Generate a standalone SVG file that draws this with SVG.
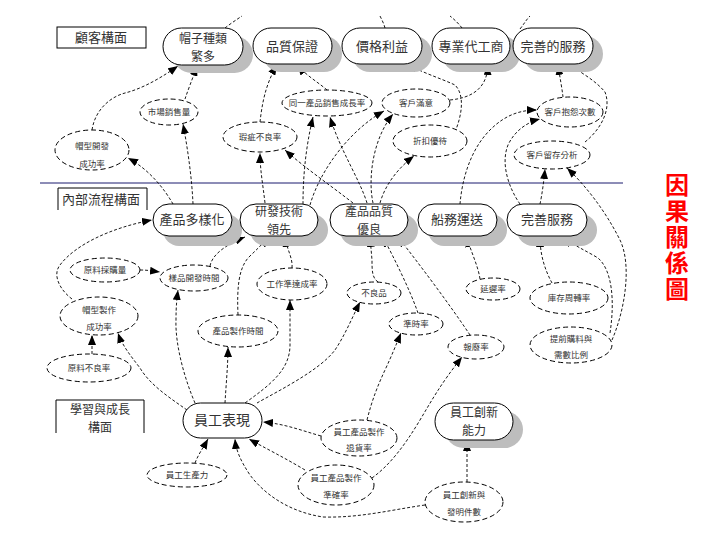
<svg xmlns="http://www.w3.org/2000/svg" width="720" height="540" viewBox="0 0 720 540">
<style>
text{font-family:"Noto Sans CJK TC","Noto Sans CJK SC",sans-serif;fill:#333;text-anchor:middle}
.big{font-size:13px}
.b2{font-size:12px}
.sm{font-size:8.5px}
.st{fill:#fff;stroke:#000;stroke-width:1}
.sh{fill:#bdbdbd}
.el{fill:#fff;stroke:#000;stroke-width:1;stroke-dasharray:5 3}
.hd{fill:none;stroke:#000;stroke-width:1}
#connectors path{fill:none;stroke:#000;stroke-width:0.9;stroke-dasharray:3 2}
#connectors path.a{marker-end:url(#arr)}
.red{fill:#f00;font-size:24px;font-weight:bold;writing-mode:vertical-rl;text-anchor:start;letter-spacing:2px}
</style>
<defs>
<marker id="arr" markerUnits="userSpaceOnUse" markerWidth="10" markerHeight="8" refX="10" refY="4" orient="auto">
<path d="M0,0 L10,4 L0,8 z" fill="#000"/>
</marker>
</defs>
<rect width="720" height="540" fill="#fff"/>

<!-- section headers -->
<g id="h-customer"><rect x="57" y="27" width="89" height="21" class="hd"/><text x="101" y="42" class="big">顧客構面</text></g>
<g id="h-internal"><path d="M58,210 V188 H147 V210" class="hd"/><text x="101" y="204" class="big">內部流程構面</text></g>
<g id="h-learning"><path d="M56,433 V400 H144 V433" class="hd"/><text x="100" y="414" class="b2">學習與成長<tspan x="100" dy="17.5">構面</tspan></text></g>
<line x1="40" y1="183" x2="623" y2="183" stroke="#1a1a6e" stroke-width="1"/>

<!-- connectors -->
<g id="connectors">
<path d="M225,28 C230,24 236,20 242,16"/>
<path d="M385,28 C384,24 382,20 380,16"/>
<path d="M462,28 C459,24 455,20 450,16"/>
<path d="M520,29 C524,24 526,20 530,16"/>
<path class="a" d="M92,130 C95,110 110,97 125,93 C145,88 165,75 178,66"/>
<path class="a" d="M185,99 C188,90 192,80 197,66"/>
<path class="a" d="M260,122 C262,105 265,85 277,65"/>
<path class="a" d="M327,90 C318,82 305,75 298,65"/>
<path class="a" d="M455,132 C462,115 465,95 455,85 C440,78 420,72 408,64"/>
<path class="a" d="M450,100 C470,98 487,90 488,65"/>
<path class="a" d="M563,97 C562,88 560,78 558,65"/>
<path class="a" d="M585,142 C600,130 612,110 605,92 C595,80 580,72 568,64"/>
<path class="a" d="M265,203 C263,185 260,170 260,153"/>
<path class="a" d="M353,203 C330,185 305,168 285,150"/>
<path class="a" d="M303,204 C303,180 305,150 313,117"/>
<path class="a" d="M367,203 C360,180 340,150 330,117"/>
<path class="a" d="M310,205 C320,170 350,130 384,111"/>
<path class="a" d="M373,203 C368,180 372,140 393,114"/>
<path class="a" d="M380,203 C385,185 398,168 414,156"/>
<path class="a" d="M460,204 C462,180 470,150 490,130 C505,115 520,110 537,110"/>
<path class="a" d="M520,204 C510,190 500,165 508,145 C515,130 528,122 540,119"/>
<path class="a" d="M540,204 C542,195 544,180 545,169"/>
<path class="a" d="M612,340 C625,310 632,265 620,240 C605,210 585,185 567,168"/>
<path class="a" d="M610,333 C615,300 612,270 598,258 C585,250 572,245 565,237"/>
<path class="a" d="M552,283 C545,270 540,255 540,237"/>
<path class="a" d="M480,279 C478,265 470,250 467,237"/>
<path class="a" d="M378,282 C372,278 372,270 372,260 L370,237"/>
<path class="a" d="M418,313 C410,290 395,260 383,237"/>
<path class="a" d="M470,335 C450,305 420,265 398,237"/>
<path class="a" d="M210,266 C212,255 225,245 245,237"/>
<path class="a" d="M238,315 C237,290 238,270 248,258 C256,250 262,245 268,237"/>
<path class="a" d="M292,268 C293,258 287,250 285,237"/>
<path class="a" d="M72,299 C60,290 52,275 60,265 C75,245 110,228 152,220"/>
<path class="a" d="M140,270 C148,270 152,271 160,272"/>
<path class="a" d="M195,403 C185,380 175,345 176,320 C176,305 177,298 178,290"/>
<path class="a" d="M245,403 C270,385 290,370 290,345 L290,300"/>
<path class="a" d="M225,403 C226,385 228,365 228,347"/>
<path class="a" d="M92,354 L92,335"/>
<path class="a" d="M187,410 C170,398 150,385 140,368 C130,355 122,345 118,333"/>
<path class="a" d="M257,403 C280,390 320,370 335,350 C345,335 352,318 360,302"/>
<path class="a" d="M367,420 C372,400 378,385 385,370 C392,355 396,345 401,333"/>
<path class="a" d="M372,478 C390,465 405,445 420,420 C432,400 440,385 462,357"/>
<path class="a" d="M173,204 C165,190 150,170 128,158"/>
<path class="a" d="M193,204 C192,180 188,150 183,124"/>
<path class="a" d="M321,436 C300,430 285,424 263,422"/>
<path class="a" d="M195,463 C198,455 203,448 208,439"/>
<path class="a" d="M425,505 C390,510 360,518 323,517 C290,512 265,495 250,475 C240,460 236,450 235,439"/>
<path class="a" d="M305,470 C285,458 265,448 249,439"/>
<path class="a" d="M467,482 L467,441"/>
</g>

<!-- top objectives -->
<g id="n-variety"><rect x="173" y="36" width="80" height="37" rx="18.5" class="sh"/><rect x="163" y="28" width="80" height="37" rx="18.5" class="st"/><text x="203" y="43" class="b2">帽子種類<tspan x="203" dy="17.5">繁多</tspan></text></g>
<g id="n-quality"><rect x="263" y="36" width="79" height="36" rx="18" class="sh"/><rect x="253" y="28" width="79" height="36" rx="18" class="st"/><text x="292" y="51" class="big">品質保證</text></g>
<g id="n-price"><rect x="352" y="36" width="80" height="36" rx="18" class="sh"/><rect x="342" y="28" width="80" height="36" rx="18" class="st"/><text x="382" y="51" class="big">價格利益</text></g>
<g id="n-oem"><rect x="442" y="36" width="78" height="36" rx="18" class="sh"/><rect x="432" y="28" width="78" height="36" rx="18" class="st"/><text x="471" y="51" class="big">專業代工商</text></g>
<g id="n-service"><rect x="523" y="36" width="80" height="36" rx="18" class="sh"/><rect x="513" y="28" width="80" height="36" rx="18" class="st"/><text x="553" y="51" class="big">完善的服務</text></g>

<!-- customer measures -->
<g id="m-sales"><ellipse cx="169" cy="112" rx="29" ry="13" class="el"/><text x="169" y="115" class="sm">市場銷售量</text></g>
<g id="m-growth"><ellipse cx="327" cy="103" rx="45" ry="13" class="el"/><text x="327" y="106" class="sm">同一產品銷售成長率</text></g>
<g id="m-satisfy"><ellipse cx="416" cy="103" rx="34" ry="14" class="el"/><text x="416" y="106" class="sm">客戶滿意</text></g>
<g id="m-complaint"><ellipse cx="570" cy="112" rx="33" ry="15" class="el"/><text x="570" y="115" class="sm">客戶抱怨次數</text></g>
<g id="m-hatdev"><ellipse cx="92" cy="150" rx="37" ry="20" class="el"/><text x="92" y="149" class="sm">帽型開發<tspan x="92" dy="18">成功率</tspan></text></g>
<g id="m-defect"><ellipse cx="260" cy="137" rx="37" ry="15" class="el"/><text x="260" y="140" class="sm">瑕疵不良率</text></g>
<g id="m-discount"><ellipse cx="430" cy="141" rx="37" ry="16" class="el"/><text x="430" y="144" class="sm">折扣優待</text></g>
<g id="m-retain"><ellipse cx="552" cy="155" rx="38" ry="14" class="el"/><text x="552" y="158" class="sm">客戶留存分析</text></g>

<!-- internal objectives -->
<g id="n-diverse"><rect x="163" y="214" width="79" height="32" rx="16" class="sh"/><rect x="153" y="204" width="79" height="32" rx="16" class="st"/><text x="192" y="224" class="big">產品多樣化</text></g>
<g id="n-rnd"><rect x="250" y="214" width="78" height="32" rx="16" class="sh"/><rect x="240" y="204" width="78" height="32" rx="16" class="st"/><text x="279" y="216" class="b2">研發技術<tspan x="279" dy="17.5">領先</tspan></text></g>
<g id="n-prodq"><rect x="340" y="214" width="78" height="32" rx="16" class="sh"/><rect x="330" y="204" width="78" height="32" rx="16" class="st"/><text x="369" y="216" class="b2">產品品質<tspan x="369" dy="17.5">優良</tspan></text></g>
<g id="n-ship"><rect x="428" y="214" width="79" height="32" rx="16" class="sh"/><rect x="418" y="204" width="79" height="32" rx="16" class="st"/><text x="457" y="224" class="big">船務運送</text></g>
<g id="n-fullsvc"><rect x="517" y="214" width="80" height="32" rx="16" class="sh"/><rect x="507" y="204" width="80" height="32" rx="16" class="st"/><text x="547" y="224" class="big">完善服務</text></g>

<!-- internal measures -->
<g id="m-purchase"><ellipse cx="105" cy="270" rx="35" ry="12" class="el"/><text x="105" y="273" class="sm">原料採購量</text></g>
<g id="m-sample"><ellipse cx="194" cy="278" rx="34" ry="13" class="el"/><text x="194" y="281" class="sm">樣品開發時間</text></g>
<g id="m-ontime"><ellipse cx="292" cy="284" rx="35" ry="16" class="el"/><text x="292" y="287" class="sm">工作準達成率</text></g>
<g id="m-hatmake"><ellipse cx="99" cy="316" rx="39" ry="19" class="el"/><text x="99" y="313" class="sm">帽型製作<tspan x="99" dy="17">成功率</tspan></text></g>
<g id="m-maketime"><ellipse cx="238" cy="331" rx="40" ry="16" class="el"/><text x="238" y="334" class="sm">產品製作時間</text></g>
<g id="m-rawdefect"><ellipse cx="89" cy="368" rx="42" ry="14" class="el"/><text x="89" y="371" class="sm">原料不良率</text></g>
<g id="m-badgoods"><ellipse cx="374" cy="293" rx="27" ry="11" class="el"/><text x="374" y="296" class="sm">不良品</text></g>
<g id="m-punct"><ellipse cx="416" cy="324" rx="27" ry="11" class="el"/><text x="416" y="327" class="sm">準時率</text></g>
<g id="m-scrap"><ellipse cx="476" cy="347" rx="28" ry="12" class="el"/><text x="476" y="350" class="sm">報廢率</text></g>
<g id="m-delay"><ellipse cx="493" cy="289" rx="27" ry="11" class="el"/><text x="493" y="292" class="sm">延遲率</text></g>
<g id="m-turnover"><ellipse cx="569" cy="298" rx="39" ry="16" class="el"/><text x="569" y="301" class="sm">庫存周轉率</text></g>
<g id="m-advance"><ellipse cx="571" cy="345" rx="41" ry="18" class="el"/><text x="571" y="342" class="sm">提前購料與<tspan x="571" dy="16">需數比例</tspan></text></g>

<!-- learning -->
<g id="n-staff"><rect x="183" y="403" width="79" height="35" rx="17.5" class="st"/><text x="222" y="425" style="font-size:14px">員工表現</text></g>
<g id="n-innov"><rect x="445" y="411" width="78" height="37" rx="18.5" class="sh"/><rect x="435" y="403" width="78" height="37" rx="18.5" class="st"/><text x="474" y="417" class="b2">員工創新<tspan x="474" dy="17.5">能力</tspan></text></g>
<g id="m-product"><ellipse cx="187" cy="475" rx="40" ry="12" class="el"/><text x="187" y="478" class="sm">員工生產力</text></g>
<g id="m-return"><ellipse cx="359" cy="438" rx="38" ry="18" class="el"/><text x="359" y="435" class="sm">員工產品製作<tspan x="359" dy="16">退貨率</tspan></text></g>
<g id="m-accuracy"><ellipse cx="336" cy="485" rx="38" ry="20" class="el"/><text x="336" y="481" class="sm">員工產品製作<tspan x="336" dy="17">準確率</tspan></text></g>
<g id="m-invent"><ellipse cx="464" cy="502" rx="39" ry="20" class="el"/><text x="464" y="498" class="sm">員工創新與<tspan x="464" dy="17">發明件數</tspan></text></g>

<g id="title"><text class="red" x="677" y="173">因果關係圖</text></g>
</svg>
